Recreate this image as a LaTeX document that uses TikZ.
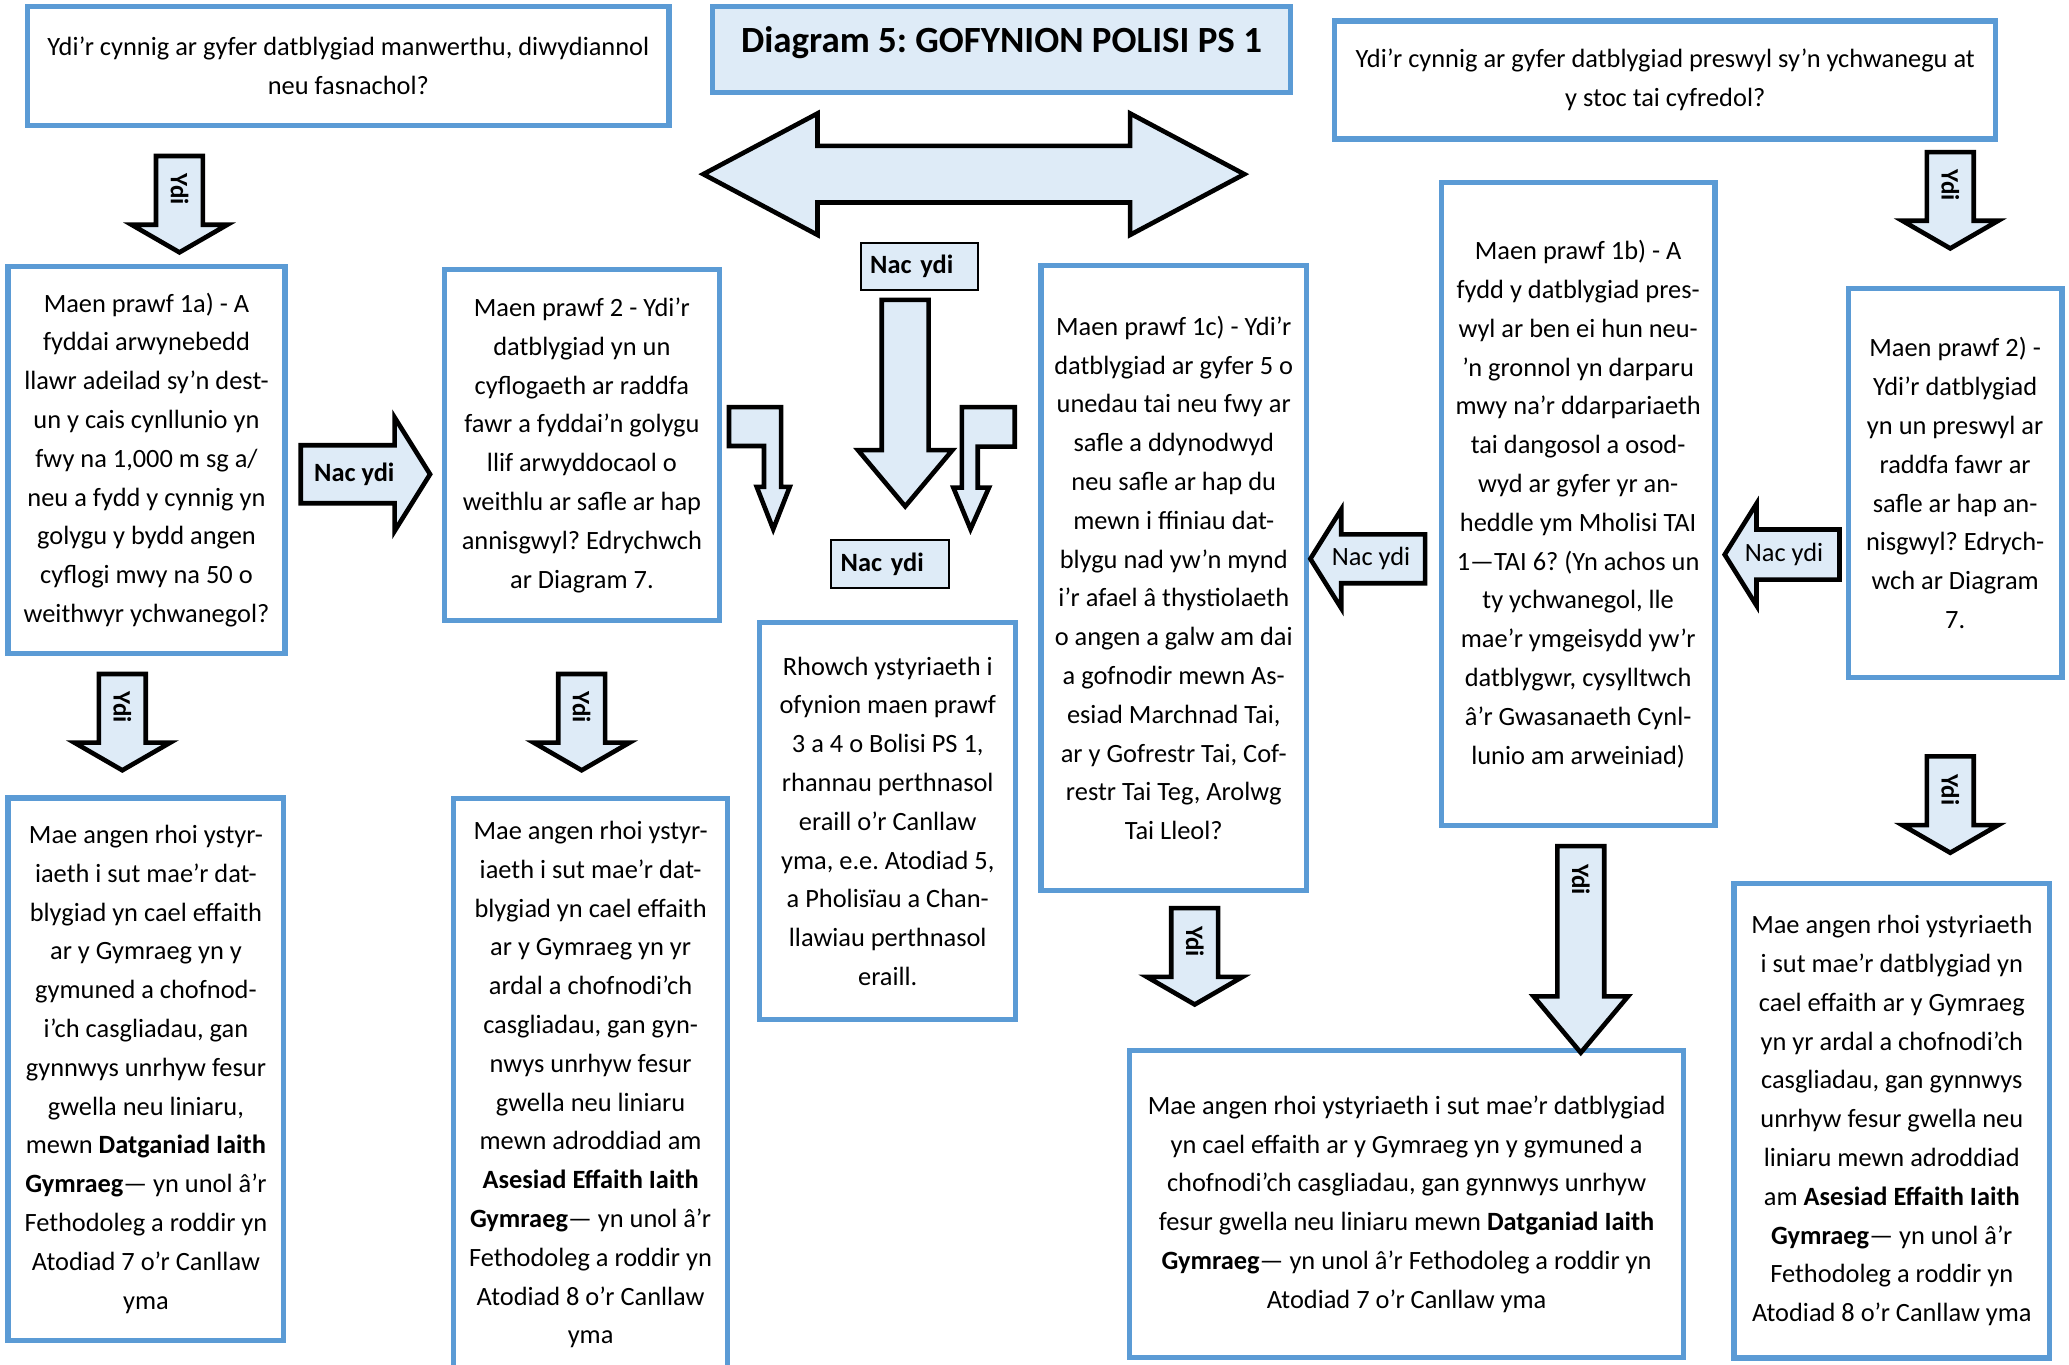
\documentclass[tikz,border=0pt]{standalone}
\usepackage{fontspec}
\setmainfont{Carlito}
\usepackage{tikz}
\usetikzlibrary{shapes.arrows, calc, positioning}

\definecolor{boxblue}{RGB}{91,155,213}
\definecolor{paleblue}{RGB}{222,235,247}

\frenchspacing

\begin{document}
\begin{tikzpicture}[x=1pt, y=-1pt, line join=miter,
    txt/.style={font=\fontsize{20}{29.4}\selectfont},
    txtb/.style={font=\fontsize{20}{29.4}\selectfont\bfseries},
    qbox/.style={txt, draw=boxblue, line width=4pt, fill=white, align=center, inner sep=1pt},
    nacbox/.style={txtb, draw=black, line width=1.5pt, fill=paleblue, minimum width=89pt,
      minimum height=36pt, text width=75pt, inner xsep=7pt, inner ysep=0pt, align=left},
    blk/.style={draw=black, line width=3.5pt, fill=paleblue},
    ydiarrow/.style={blk, single arrow, shape border rotate=270, inner sep=16pt, minimum width=0pt,
      single arrow head extend=18.5pt, single arrow tip angle=120, minimum height=73pt},
    bigdown/.style={blk, single arrow, shape border rotate=270, inner sep=16pt, minimum width=0pt,
      single arrow head extend=18pt, single arrow tip angle=80, minimum height=156.5pt},
    ydilabel/.style={font=\fontsize{19}{19}\selectfont\bfseries, rotate=-90, inner sep=0pt}
  ]

  \useasboundingbox (0,0) rectangle (1568,1034);

  % --- TOP ROW ---
  \node[qbox, minimum width=486pt, minimum height=90pt] (qretail) at (264,50)
    {Ydi’r cynnig ar gyfer datblygiad manwerthu, diwydiannol\\ neu fasnachol?};
  \node[qbox, fill=paleblue, font=\fontsize{28}{30}\selectfont\bfseries, text height=19pt, text depth=14pt,
    minimum width=438pt, minimum height=65pt] (title) at (759,37.5)
    {Diagram 5: GOFYNION POLISI PS 1};
  \node[qbox, minimum width=501pt, minimum height=89.5pt] (qhouse) at (1262,60.6)
    {Ydi’r cynnig ar gyfer datblygiad preswyl sy’n ychwanegu at\\ y stoc tai cyfredol?};

  \node[blk, double arrow, double arrow head extend=24.5pt, double arrow tip angle=56,
    inner sep=19.75pt, minimum width=0pt, minimum height=410pt] (both) at (738,132) {};

  % --- CRITERIA ---
  \node[qbox, minimum width=210pt, minimum height=293pt] (crit1a) at (111,348.5)
    {Maen prawf 1a) - A\\ fyddai arwynebedd\\ llawr adeilad sy’n dest-\\ un y cais cynllunio yn\\
     fwy na 1,000 m sg a/\\ neu a fydd y cynnig yn\\ golygu y bydd angen\\ cyflogi mwy na 50 o\\
     weithwyr ychwanegol?};
  \node[qbox, minimum width=208pt, minimum height=266pt] (crit2) at (441,337.5)
    {Maen prawf 2 - Ydi’r\\ datblygiad yn un\\ cyflogaeth ar raddfa\\ fawr a fyddai’n golygu\\
     llif arwyddocaol o\\ weithlu ar safle ar hap\\ annisgwyl? Edrychwch\\ ar Diagram 7.};
  \node[qbox, minimum width=201pt, minimum height=474pt] (crit1c) at (889.5,438)
    {Maen prawf 1c) - Ydi’r\\ datblygiad ar gyfer 5 o\\ unedau tai neu fwy ar\\ safle a ddynodwyd\\
     neu safle ar hap du\\ mewn i ffiniau dat-\\ blygu nad yw’n mynd\\ i’r afael â thystiolaeth\\
     o angen a galw am dai\\ a gofnodir mewn As-\\ esiad Marchnad Tai,\\ ar y Gofrestr Tai, Cof-\\
     restr Tai Teg, Arolwg\\ Tai Lleol?};
  \node[qbox, minimum width=194pt, minimum height=301pt] (other) at (672.8,622.3)
    {Rhowch ystyriaeth i\\ ofynion maen prawf\\ 3 a 4 o Bolisi PS 1,\\ rhannau perthnasol\\
     eraill o’r Canllaw\\ yma, e.e. Atodiad 5,\\ a Pholisïau a Chan-\\ llawiau perthnasol\\ eraill.};
  \node[qbox, minimum width=207.5pt, minimum height=487.5pt] (crit1b) at (1196,382)
    {Maen prawf 1b) - A\\ fydd y datblygiad pres-\\ wyl ar ben ei hun neu-\\ ’n gronnol yn darparu\\
     mwy na’r ddarpariaeth\\ tai dangosol a osod-\\ wyd ar gyfer yr an-\\ heddle ym Mholisi TAI\\
     1—TAI 6? (Yn achos un\\ ty ychwanegol, lle\\ mae’r ymgeisydd yw’r\\ datblygwr, cysylltwch\\
     â’r Gwasanaeth Cynl-\\ lunio am arweiniad)};
  \node[qbox, minimum width=162pt, minimum height=295pt] (crit2r) at (1481.7,366.2)
    {Maen prawf 2) -\\ Ydi’r datblygiad\\ yn un preswyl ar\\ raddfa fawr ar\\ safle ar hap an-\\
     nisgwyl? Edrych-\\ wch ar Diagram\\ 7.};

  % --- OUTCOMES ---
  \node[qbox, minimum width=209pt, minimum height=411pt] (outA) at (110.6,810.3)
    {Mae angen rhoi ystyr-\\ iaeth i sut mae’r dat-\\ blygiad yn cael effaith\\ ar y Gymraeg yn y\\
     gymuned a chofnod-\\ i’ch casgliadau, gan\\ gynnwys unrhyw fesur\\ gwella neu liniaru,\\
     mewn \textbf{Datganiad Iaith}\\ \textbf{Gymraeg}— yn unol â’r\\ Fethodoleg a roddir yn\\
     Atodiad 7 o’r Canllaw\\ yma};
  \node[qbox, minimum width=208pt, minimum height=434pt] (outB) at (447.6,822)
    {Mae angen rhoi ystyr-\\ iaeth i sut mae’r dat-\\ blygiad yn cael effaith\\ ar y Gymraeg yn yr\\
     ardal a chofnodi’ch\\ casgliadau, gan gyn-\\ nwys unrhyw fesur\\ gwella neu liniaru\\
     mewn adroddiad am\\ \textbf{Asesiad Effaith Iaith}\\ \textbf{Gymraeg}— yn unol â’r\\
     Fethodoleg a roddir yn\\ Atodiad 8 o’r Canllaw\\ yma};
  \node[qbox, minimum width=419.5pt, minimum height=233pt] (outC) at (1066,912.5)
    {Mae angen rhoi ystyriaeth i sut mae’r datblygiad\\ yn cael effaith ar y Gymraeg yn y gymuned a\\
     chofnodi’ch casgliadau, gan gynnwys unrhyw\\ fesur gwella neu liniaru mewn \textbf{Datganiad Iaith}\\
     \textbf{Gymraeg}— yn unol â’r Fethodoleg a roddir yn\\ Atodiad 7 o’r Canllaw yma};
  \node[qbox, minimum width=239pt, minimum height=359.5pt] (outD) at (1433.7,849.3)
    {Mae angen rhoi ystyriaeth\\ i sut mae’r datblygiad yn\\ cael effaith ar y Gymraeg\\
     yn yr ardal a chofnodi’ch\\ casgliadau, gan gynnwys\\ unrhyw fesur gwella neu\\
     liniaru mewn adroddiad\\ am \textbf{Asesiad Effaith Iaith}\\ \textbf{Gymraeg}— yn unol â’r\\
     Fethodoleg a roddir yn\\ Atodiad 8 o’r Canllaw yma};

  % --- "Ydi" arrows ---
  \foreach \nm/\x/\y in {ydiA/136/116.5, ydiB/1478/113.5, ydiC/92.7/509,
                         ydiD/440.8/509, ydiE/905.4/686.5, ydiF/1478/571.5}{
    \node[ydiarrow, anchor=tail] (\nm) at (\x,\y) {};
    \node[ydilabel] (\nm-t) at ($(\nm.tail)+(0,27)$) {Ydi};
  }
  \node[bigdown, anchor=tail] (ydiG) at (1198,639.5) {};
  \node[ydilabel] (ydiG-t) at ($(ydiG.tail)+(0,27)$) {Ydi};

  % --- "Nac ydi" arrows ---
  \node[blk, single arrow, inner sep=20.25pt, minimum width=0pt, single arrow head extend=21pt,
    single arrow tip angle=116, minimum height=98pt, anchor=tip] (nacA) at (328,359.4) {};
  \node[txtb, inner sep=0pt] (nacA-t) at (268.5,359.4) {Nac ydi};

  \node[blk, single arrow, shape border rotate=180, inner sep=17.25pt, minimum width=0pt,
    single arrow head extend=19.5pt, single arrow tip angle=116, minimum height=87pt,
    anchor=tip] (nacB) at (1305,420.3) {};
  \node[txt, inner sep=0pt] (nacB-t) at (1352,420.3) {Nac ydi};

  \node[blk, single arrow, shape border rotate=180, inner sep=16.75pt, minimum width=0pt,
    single arrow head extend=19pt, single arrow tip angle=116, minimum height=87pt,
    anchor=tip] (nacC) at (991,423.5) {};
  \node[txt, inner sep=0pt] (nacC-t) at (1039,423.5) {Nac ydi};

  % --- centre: No / No ---
  \node[nacbox] (nactop) at (697,202) {Nac ydi};
  \node[bigdown, anchor=tail] (nacdown) at (686,225.5) {};
  \node[nacbox] (nacbot) at (674.6,427.5) {Nac ydi};

  \draw[blk] (552.5,308.5) -- (592,308.5) -- (592,369) -- (598.5,369) -- (586,401)
    -- (573.5,369) -- (579,369) -- (579,338) -- (552.5,338) -- cycle;
  \draw[blk] (729,308.5) -- (769,308.5) -- (769,338.5) -- (741,338.5) -- (741,369.5)
    -- (749.5,369.5) -- (735.5,401) -- (722.5,369.5) -- (729,369.5) -- cycle;

\end{tikzpicture}
\end{document}
